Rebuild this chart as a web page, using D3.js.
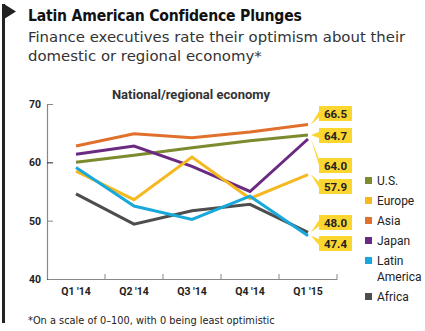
<!DOCTYPE html>
<html lang="en">
<head>
<meta charset="UTF-8">
<title>Latin American Confidence Plunges</title>
<script src="https://d3js.org/d3.v7.min.js"></script>
<style>
  body { margin: 0; background: #fff; }
</style>
</head>
<body>
<script>
// data
const quarters = ["Q1 '14", "Q2 '14", "Q3 '14", "Q4 '14", "Q1 '15"];
const usVals = [60.0, 61.2, 62.5, 63.7, 64.7];
const europeVals = [58.5, 53.6, 60.9, 53.8, 57.9];
const asiaVals = [62.8, 64.9, 64.2, 65.2, 66.5];
const japanVals = [61.4, 62.8, 59.3, 55.0, 64.0];
const latamVals = [59.1, 52.5, 50.2, 54.2, 47.4];
const africaVals = [54.6, 49.4, 51.7, 52.8, 48.0];
const yTicks = [40, 50, 60, 70];

const series = [
  { name: "U.S.", values: usVals, color: "#7d8a2e" },
  { name: "Europe", values: europeVals, color: "#f5b820" },
  { name: "Asia", values: asiaVals, color: "#e0702c" },
  { name: "Japan", values: japanVals, color: "#6b2a82" },
  { name: "Latin America", values: latamVals, color: "#18a9dc" },
  { name: "Africa", values: africaVals, color: "#4d4d4d" }
];
// draw order (back to front)
const drawOrder = ["Africa", "Asia", "U.S.", "Japan", "Europe", "Latin America"];
// callout box top y for each series (label order in picture)
const callouts = [
  { name: "Asia", boxY: 106 },
  { name: "U.S.", boxY: 128 },
  { name: "Japan", boxY: 158 },
  { name: "Europe", boxY: 179 },
  { name: "Africa", boxY: 215 },
  { name: "Latin America", boxY: 236 }
];

const w = 425, h = 331;
const svg = d3.select('body').append('svg')
    .attr('width', w)
    .attr('height', h)
    .style('font-family', 'Roboto, "Noto Sans", sans-serif');

// flag
svg.append('rect').attr('x', 2).attr('y', 4).attr('width', 3).attr('height', 319).attr('fill', '#222');
svg.append('path').attr('d', 'M4,4 L16,11.5 L4,19 Z').attr('fill', '#222');

// titles
svg.append('text').attr('x', 28).attr('y', 21)
    .style('font-family', '"DejaVu Sans Condensed", "DejaVu Sans"')
    .style('font-stretch', 'condensed')
    .attr('font-size', 15.6).attr('font-weight', 700)
    .attr('letter-spacing', -0.2).attr('fill', '#111')
    .text('Latin American Confidence Plunges');
svg.append('text').attr('x', 28).attr('y', 42)
    .style('font-family', '"DejaVu Sans"')
    .attr('font-size', 14.9).attr('fill', '#333')
    .text('Finance executives rate their optimism about their');
svg.append('text').attr('x', 28).attr('y', 61)
    .style('font-family', '"DejaVu Sans"')
    .attr('font-size', 14.9).attr('fill', '#333')
    .text('domestic or regional economy*');

svg.append('text').attr('x', 191).attr('y', 99)
    .attr('text-anchor', 'middle')
    .attr('font-size', 13).attr('font-weight', 700).attr('fill', '#333')
    .text('National/regional economy');

// scales
const x = d3.scaleBand().domain(quarters).range([47, 337]);
const y = d3.scaleLinear().domain([40, 70]).range([279, 104]);
const cx = d => x(d) + x.bandwidth() / 2;

// y axis
const yAxis = svg.append('g').attr('transform', 'translate(47,0)')
    .call(d3.axisRight(y).tickValues(yTicks).tickSize(6).tickFormat(d3.format('d')));
yAxis.attr('font-family', null);
yAxis.select('.domain').attr('stroke', '#888').attr('stroke-width', 1.2);
yAxis.selectAll('.tick line').attr('stroke', (d, i) => i % 2 ? '#888' : '#222');
yAxis.selectAll('.tick text')
    .attr('x', -6).attr('text-anchor', 'end')
    .attr('font-size', 10.5).attr('font-weight', 700).attr('fill', '#222');

// x axis
const xAxis = svg.append('g').attr('transform', 'translate(0,279)')
    .call(d3.axisBottom(x).tickSize(0).tickPadding(9));
xAxis.attr('font-family', null);
xAxis.select('.domain').attr('stroke', '#888').attr('stroke-width', 1.2);
xAxis.selectAll('.tick text')
    .attr('font-size', 10.5).attr('font-weight', 700).attr('fill', '#222');
// separators between quarters
xAxis.selectAll('.sep')
    .data(quarters.slice(1).concat(['end']))
    .enter().append('line')
    .attr('x1', (d, i) => 47 + x.step() * (i + 1))
    .attr('x2', (d, i) => 47 + x.step() * (i + 1))
    .attr('y1', 0).attr('y2', -5)
    .attr('stroke', '#888');

// lines
const line = d3.line().x((d, i) => cx(quarters[i])).y(d => y(d));
drawOrder.forEach(name => {
  const s = series.find(d => d.name === name);
  svg.append('path')
      .attr('d', line(s.values))
      .attr('fill', 'none')
      .attr('stroke', s.color)
      .attr('stroke-width', 3);
});

// callouts
const lastQ = quarters[quarters.length - 1];
const bx = 319, bw = 33, bh = 15;
callouts.forEach(c => {
  const s = series.find(d => d.name === c.name);
  const v = s.values[s.values.length - 1];
  const tipX = cx(lastQ) + 3, tipY = y(v);
  const midY = c.boxY + bh / 2;
  svg.append('path')
      .attr('d', `M${bx + 1},${midY - 4} L${tipX},${tipY} L${bx + 1},${midY + 3} Z`)
      .attr('fill', '#fcd630');
  svg.append('rect')
      .attr('x', bx).attr('y', c.boxY)
      .attr('width', bw).attr('height', bh)
      .attr('fill', '#fcd630');
  svg.append('text')
      .attr('x', bx + bw / 2).attr('y', c.boxY + bh / 2 + 4)
      .attr('text-anchor', 'middle')
      .attr('font-size', 11.5).attr('font-weight', 700).attr('fill', '#222')
      .text(d3.format('.1f')(v));
});

// legend
const legendY = [181, 201, 221, 241, 261, 297];
series.forEach((s, i) => {
  const ly = legendY[i];
  svg.append('rect')
      .attr('x', 365).attr('y', ly - 4).attr('width', 7).attr('height', 7)
      .attr('fill', s.color);
  const t = svg.append('text')
      .attr('x', 377).attr('y', ly + 4)
      .attr('font-size', 12).attr('fill', '#222');
  if (s.name === 'Latin America') {
    t.append('tspan').attr('x', 377).text('Latin');
    t.append('tspan').attr('x', 377).attr('dy', 16).text('America');
  } else {
    t.text(s.name);
  }
});

// footnote
svg.append('text').attr('x', 28).attr('y', 324)
    .style('font-family', '"DejaVu Sans"')
    .attr('font-size', 9.8).attr('fill', '#222')
    .text('*On a scale of 0\u2013100, with 0 being least optimistic');
</script>
</body>
</html>
